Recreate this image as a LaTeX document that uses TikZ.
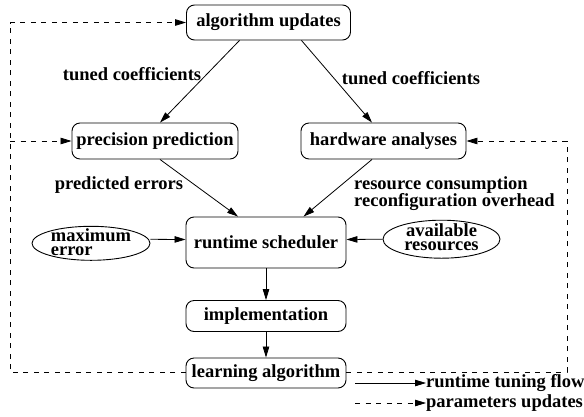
\documentclass[tikz,border=0pt]{standalone}
\usepackage{fontspec}
\setmainfont{Liberation Serif}
\usetikzlibrary{arrows.meta,shapes.geometric,calc}
\begin{document}
\begin{tikzpicture}[x=1pt,y=-1pt,
  every node/.style={font=\bfseries\fontsize{18.5}{17}\selectfont},
  box/.style={draw, rounded corners=8pt, line width=0.9pt, inner sep=0pt},
  oval/.style={draw, ellipse, line width=0.9pt, inner sep=0pt},
  ovaltext/.style={inner sep=0pt, font=\bfseries\fontsize{18.5}{14}\selectfont},
  lbl/.style={inner sep=0pt},
  arr/.style={-{Triangle[length=11pt,width=6.5pt]}, line width=0.8pt},
  dline/.style={line width=0.8pt, dash pattern=on 5pt off 5.5pt},
  darr/.style={arr, dash pattern=on 5pt off 5.5pt}]
\useasboundingbox (0,0) rectangle (584,416);

% boxes
\node[box, minimum width=164pt, minimum height=35pt] (au) at (268.5,22.5) {algorithm updates};
\node[box, minimum width=166pt, minimum height=36pt] (pp) at (155,141) {precision prediction};
\node[box, minimum width=165pt, minimum height=36pt] (ha) at (383.5,141) {hardware analyses};
\node[box, minimum width=160pt, minimum height=51pt] (rs) at (266,242.5) {runtime scheduler};
\node[box, minimum width=160pt, minimum height=31pt] (im) at (266,316) {implementation};
\node[box, minimum width=160pt, minimum height=30pt] (la) at (266,373) {learning algorithm};

% ellipses
\node[oval, minimum width=118pt, minimum height=34pt] (me) at (91,243.3) {};
\node[ovaltext, align=left, yshift=1.5pt] (met) at (me.center) {maximum\\error};
\node[oval, minimum width=117pt, minimum height=38pt] (ar) at (441.5,239.2) {};
\node[ovaltext, align=center, yshift=2pt] (art) at (ar.center) {available\\resources};

% labels
\node[lbl] (l1) at (132,74) {tuned coefficients};
\node[lbl] (l2) at (411,78) {tuned coefficients};
\node[lbl] (l3) at (119,185) {predicted errors};
\node[lbl, align=left, anchor=west] (l4) at (354,193.5) {resource consumption\\reconfiguration overhead};

% solid flow
\draw[arr] ([xshift=-29pt]au.south) -- ([xshift=5pt]pp.north);
\draw[arr] ([xshift=33pt]au.south) -- ([xshift=-11.5pt]ha.north);
\draw[arr] ([xshift=5pt]pp.south) -- ([xshift=-28pt]rs.north);
\draw[arr] ([xshift=-11.5pt]ha.south) -- ([xshift=37.5pt]rs.north);
\draw[arr] ([yshift=4pt]me.east) -- ([yshift=3pt]rs.west);
\draw[arr] (ar.west) -- ([yshift=3pt]rs.east);
\draw[arr] (rs.south) -- (im.north);
\draw[arr] (im.south) -- (la.north);

% dashed parameter updates
\coordinate (bl) at (10,372);
\coordinate (br) at (567,372);
\coordinate (tl) at (10,22.5);
\coordinate (ml) at (10,141);
\coordinate (tr) at (567,141);
\draw[darr] (la.west |- bl) -- (bl) -- (tl) -- (au.west);
\draw[darr] (ml) -- (pp.west);
\draw[darr] (la.east |- br) -- (br) -- (tr) -- (ha.east);

% legend
\coordinate (lg1) at (355,383);
\coordinate (lg2) at (355,403);
\node[lbl, anchor=west] (lt1) at (426,383) {runtime tuning flow};
\node[lbl, anchor=west] (lt2) at (426,403) {parameters updates};
\draw[arr] (lg1) -- (lt1.west);
\draw[darr] (lg2) -- (lt2.west);
\end{tikzpicture}
\end{document}
